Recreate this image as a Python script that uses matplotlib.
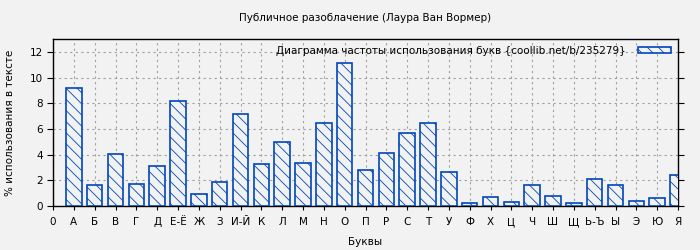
import matplotlib
matplotlib.use("Agg")
import matplotlib.pyplot as plt

# letters and their share in the text, %
letters = ["А", "Б", "В", "Г", "Д", "Е-Ё", "Ж", "З", "И-Й", "К", "Л", "М", "Н", "О", "П",
           "Р", "С", "Т", "У", "Ф", "Х", "Ц", "Ч", "Ш", "Щ", "Ь-Ъ", "Ы", "Э", "Ю", "Я"]
percent = [9.17, 1.61, 4.03, 1.69, 3.09, 8.16, 0.91, 1.85, 7.15, 3.25, 4.96, 3.33, 6.44, 11.12, 2.78,
           4.10, 5.66, 6.44, 2.62, 0.21, 0.68, 0.29, 1.61, 0.75, 0.21, 2.08, 1.61, 0.36, 0.60, 2.39]
tick_labels = ["0"] + letters

title = "Публичное разоблачение (Лаура Ван Вормер)"
legend_label = "Диаграмма частоты использования букв {coollib.net/b/235279}"

bg = "#f2f2f2"
bar_color = "#0047bb"
fs = 7.5

plt.rcParams["font.family"] = "DejaVu Sans"
plt.rcParams["hatch.linewidth"] = 0.6
plt.rcParams["hatch.color"] = bar_color

fig = plt.figure(figsize=(7, 2.5), dpi=100, facecolor=bg)
ax = fig.add_axes([53 / 700, 1 - 206 / 250, 625 / 700, 167 / 250])
ax.set_facecolor(bg)

x = list(range(1, len(letters) + 1))
ax.bar(x, percent, width=0.75, facecolor=bg, edgecolor=bar_color, linewidth=1.2,
       hatch="\\\\\\", label=legend_label, zorder=3)

ax.set_xlim(0, 30)
ax.set_ylim(0, 13)
ax.set_xticks(range(0, 31))
ax.set_xticklabels(tick_labels, fontsize=fs)
ax.set_yticks(range(0, 13, 2))
ax.tick_params(axis="y", labelsize=fs, direction="out", length=4, right=True)
ax.tick_params(axis="x", direction="out", length=3, pad=5)

ax.grid(True, color="#a0a0a0", linestyle=(0, (2, 3)), linewidth=0.8, zorder=0)
for s in ax.spines.values():
    s.set_linewidth(1)

ax.set_xlabel("Буквы", fontsize=fs, labelpad=7)
ax.set_ylabel("% использования в тексте", fontsize=fs)
ax.yaxis.set_label_coords(-0.061, 0.5)
# title centred over the plot area, like gnuplot does
fig.text((53 + 678) / 2 / 700, 1 - 18 / 250, title, ha="center", va="center", fontsize=fs)

ax.legend(loc="upper right", frameon=False, markerfirst=False, fontsize=fs,
          handlelength=3.2, handleheight=0.6, borderaxespad=0.25, handletextpad=1.2)

fig.savefig("out.png", dpi=100, facecolor=bg)
